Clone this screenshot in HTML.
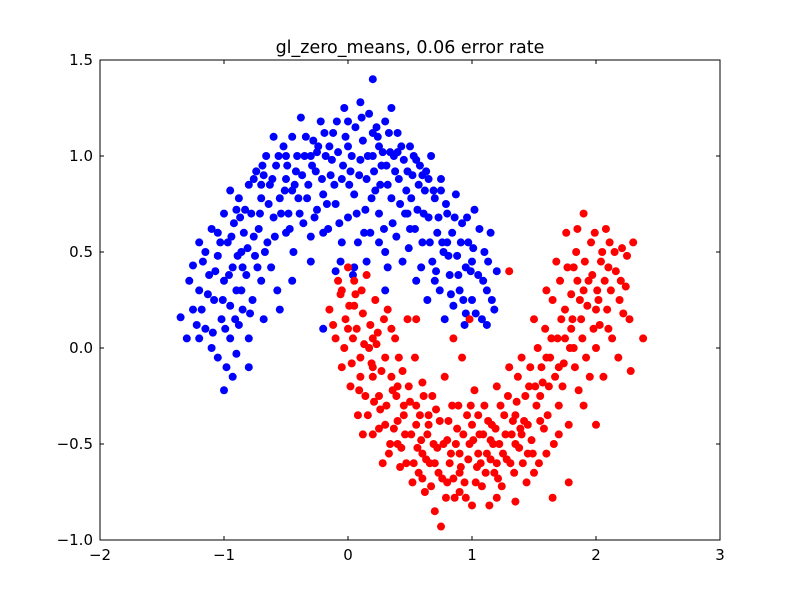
<!DOCTYPE html>
<html><head><meta charset="utf-8"><style>
body{margin:0;background:#fff;}
svg{display:block;font-family:"DejaVu Sans","Liberation Sans",sans-serif;}
</style></head><body>
<svg id="chart" width="800" height="600" viewBox="0 0 800 600">
<rect width="800" height="600" fill="#fff"/>
<text x="410" y="53" font-size="17.5" text-anchor="middle">gl_zero_means, 0.06 error rate</text>
<g id="points"></g>
<rect x="100" y="60" width="620" height="480" fill="none" stroke="#000" stroke-width="1"/>
<g id="axes"></g>
</svg>
<script>
const xTicks=[-2,-1,0,1,2,3];
const yTicks=[-1.0,-0.5,0.0,0.5,1.0,1.5];
const xTickLabels=["\u22122","\u22121","0","1","2","3"];
const yTickLabels=["\u22121.0","\u22120.5","0.0","0.5","1.0","1.5"];
const bluePoints=[-1.35,0.16,-1.3,0.05,-1.25,0.43,-1.2,0.3,-1.2,0.55,-1.18,0.2,-1.15,0.1,-1.12,0.38,-1.1,0.62,-1.1,0.0,-1.08,0.25,-1.05,0.48,-1.05,-0.05,-1.02,0.15,-1.0,0.7,-1.0,0.35,-0.98,-0.1,-0.97,0.55,-0.95,0.05,-0.95,0.22,-0.93,0.42,-0.92,0.65,-0.9,-0.03,-0.9,0.3,-0.88,0.78,-0.88,0.12,-0.86,0.5,-0.85,0.2,-0.84,0.6,-0.82,0.38,-0.8,0.85,-0.8,0.05,-0.78,0.7,-0.77,0.25,-0.75,0.48,-0.74,0.92,-0.72,0.62,-0.7,0.35,-0.7,0.78,-0.68,0.15,-0.66,1.0,-0.65,0.55,-0.63,0.85,-0.62,0.42,-0.6,0.68,-0.58,0.95,-0.57,0.3,-0.55,0.78,-0.52,1.05,-0.5,0.6,-0.5,0.88,-0.48,0.7,-0.45,1.1,-0.44,0.5,-0.42,0.92,-0.4,0.78,-0.38,1.2,-0.36,0.65,-0.35,1.0,-0.32,0.85,-0.3,0.58,-0.28,1.08,-0.26,0.92,-0.25,0.72,-0.22,1.18,-0.2,0.8,-0.18,1.0,-0.16,0.62,-0.14,0.9,-0.12,1.12,-0.1,0.75,-0.08,1.02,-0.06,0.45,-0.05,0.88,-0.03,1.25,0.0,0.68,0.0,1.05,0.02,0.92,0.04,0.38,0.05,0.8,0.06,1.15,0.08,0.55,0.1,0.98,0.12,1.08,0.14,0.72,0.15,0.88,0.17,1.22,0.18,0.6,0.2,1.0,0.22,0.82,0.24,1.1,0.25,0.7,0.27,0.95,0.3,1.18,0.3,0.5,0.32,0.85,0.34,1.02,0.36,0.65,0.38,0.92,0.4,1.12,0.42,0.75,0.44,0.45,0.45,0.98,0.47,0.82,0.5,0.62,0.5,1.05,0.52,0.9,0.55,0.35,0.56,0.72,0.58,0.95,0.6,0.55,0.62,0.82,0.64,0.25,0.65,0.68,0.67,1.0,0.68,0.45,0.7,0.78,0.72,0.6,0.74,0.3,0.75,0.88,0.77,0.5,0.78,0.15,0.8,0.7,0.82,0.38,0.84,0.6,0.85,0.22,0.87,0.8,0.88,0.48,0.9,0.3,0.92,0.65,0.94,0.12,0.95,0.42,0.97,0.55,1.0,0.25,1.02,0.72,1.05,0.38,1.08,0.15,1.1,0.5,1.12,0.3,1.15,0.6,1.18,0.2,1.2,0.4,0.2,1.4,-0.2,0.1,-0.55,0.2,-1.0,-0.22,-0.93,-0.15,-0.1,0.4,0.3,0.3,-0.8,-0.1,-0.95,0.82,-1.15,0.5,-0.6,1.1,-0.3,1.0,0.1,1.28,0.35,1.25,0.6,0.9,0.8,0.55,1.0,0.45,-1.05,0.6,-0.85,0.42,-0.68,0.9,-0.45,0.82,-0.15,1.05,0.25,1.05,0.48,0.7,0.7,0.35,0.95,0.18,1.12,0.12,
-1.28,0.35,-1.22,0.12,-1.17,0.45,-1.13,0.28,-1.09,0.08,-1.07,0.4,-1.03,0.55,-1.01,0.25,-0.99,0.1,-0.96,0.38,-0.94,0.58,-0.91,0.15,-0.89,0.48,-0.87,0.68,-0.86,0.3,-0.83,0.72,-0.81,0.52,-0.79,0.18,-0.76,0.88,-0.76,0.58,-0.73,0.42,-0.71,0.7,-0.69,0.95,-0.67,0.5,-0.64,0.75,-0.61,0.88,-0.59,0.58,-0.56,1.0,-0.54,0.7,-0.51,0.82,-0.49,0.95,-0.47,0.62,-0.43,0.85,-0.41,1.0,-0.39,0.7,-0.37,0.9,-0.34,1.1,-0.33,0.78,-0.29,0.95,-0.27,0.68,-0.24,1.05,-0.21,0.88,-0.19,1.12,-0.17,0.75,-0.13,0.98,-0.11,0.85,-0.09,1.18,-0.07,0.65,-0.04,0.95,-0.02,1.1,0.01,0.85,0.03,1.0,0.07,0.7,0.09,0.9,0.11,1.2,0.13,0.6,0.16,1.0,0.19,0.78,0.21,0.92,0.23,1.15,0.26,0.85,0.28,1.02,0.29,0.62,0.31,0.95,0.33,1.12,0.35,0.78,0.37,1.0,0.39,0.58,0.41,0.88,0.43,1.05,0.46,0.7,0.48,0.92,0.49,0.52,0.51,0.78,0.53,1.0,0.54,0.62,0.57,0.85,0.59,0.42,0.61,0.7,0.63,0.92,0.66,0.55,0.69,0.82,0.71,0.4,0.73,0.68,0.76,0.55,0.79,0.75,0.81,0.48,0.83,0.28,0.86,0.68,0.89,0.38,0.91,0.55,0.93,0.25,0.96,0.68,0.99,0.4,1.01,0.52,1.03,0.18,1.06,0.62,1.09,0.35,1.13,0.45,1.16,0.25,-0.3,0.45,-0.45,0.35,-0.2,0.6,-0.05,0.55,0.05,0.42,0.15,0.45,0.25,0.55,0.32,0.42,-1.25,0.2,-1.2,0.05,-0.9,0.72,-0.7,0.85,-0.5,1.0,-0.25,1.02,0.0,1.18,0.2,1.12,0.4,1.02,0.55,0.98,0.65,0.88,0.75,0.82];
const redPoints=[-0.15,0.2,-0.1,0.05,-0.08,0.35,-0.05,-0.1,-0.02,0.15,0.0,0.42,0.02,-0.2,0.04,0.05,0.06,0.28,0.08,-0.35,0.1,-0.05,0.12,0.18,0.14,-0.25,0.15,0.38,0.17,0.0,0.2,-0.45,0.2,-0.15,0.22,0.25,0.24,0.08,0.26,-0.32,0.28,-0.6,0.3,-0.05,0.32,0.2,0.34,-0.5,0.36,-0.22,0.38,0.05,0.4,-0.38,0.42,-0.62,0.44,-0.12,0.46,-0.45,0.48,0.15,0.5,-0.28,0.52,-0.7,0.54,-0.05,0.56,-0.52,0.58,-0.35,0.6,-0.18,0.62,-0.75,0.64,-0.45,0.66,-0.6,0.68,-0.25,0.7,-0.85,0.72,-0.52,0.74,-0.38,0.75,-0.93,0.76,-0.68,0.78,-0.15,0.8,-0.48,0.82,-0.6,0.84,-0.3,0.86,-0.78,0.88,-0.42,0.9,-0.55,0.92,-0.05,0.94,-0.7,0.96,-0.35,0.98,-0.5,1.0,-0.82,1.02,-0.22,1.04,-0.62,1.06,-0.45,1.08,-0.72,1.1,-0.3,1.12,-0.55,1.14,-0.82,1.16,-0.4,1.18,-0.65,1.2,-0.2,1.22,-0.5,1.24,-0.72,1.26,-0.35,1.28,-0.58,1.3,-0.1,1.32,-0.45,1.34,-0.65,1.36,-0.28,1.38,-0.52,1.4,-0.05,1.42,-0.38,1.44,-0.7,1.46,-0.2,1.48,-0.48,1.5,0.15,1.52,-0.3,1.54,-0.6,1.56,-0.1,1.58,-0.42,1.6,0.3,1.62,-0.2,1.64,0.05,1.66,-0.5,1.68,0.45,1.7,-0.3,1.72,0.15,1.74,-0.08,1.76,0.6,1.78,-0.4,1.8,0.28,1.82,0.0,1.84,0.5,1.86,-0.22,1.88,0.15,1.9,0.7,1.92,-0.05,1.94,0.35,1.96,0.55,1.98,0.1,2.0,-0.4,2.02,0.25,2.04,0.45,2.06,-0.15,2.08,0.62,2.1,0.1,2.12,0.3,2.15,0.5,2.18,-0.05,2.2,0.35,2.22,0.18,2.25,0.48,2.3,0.55,2.38,0.05,2.28,-0.12,1.65,-0.78,1.78,-0.7,1.35,-0.8,0.12,-0.45,0.35,0.1,0.55,0.15,0.98,0.15,1.3,0.4,0.85,0.05,0.0,0.1,0.1,-0.15,0.25,-0.25,0.4,-0.5,0.55,-0.4,0.7,-0.6,0.9,-0.65,1.05,-0.55,1.2,-0.6,1.4,-0.45,1.55,-0.25,1.7,-0.1,1.8,0.1,1.9,0.3,2.0,0.2,1.85,0.35,1.6,-0.05,1.45,-0.55,1.0,-0.4,0.8,-0.7,0.6,-0.55,0.45,-0.3,0.2,-0.1,0.05,0.22,0.3,-0.4,0.65,-0.35,1.15,-0.48,1.35,-0.35,1.75,0.05,2.1,0.42,
-0.12,0.12,-0.06,0.28,-0.03,0.0,0.01,0.22,0.03,-0.08,0.05,0.35,0.07,0.1,0.09,-0.22,0.11,0.3,0.13,0.02,0.16,-0.35,0.18,0.12,0.19,-0.08,0.21,-0.28,0.23,0.02,0.25,-0.42,0.27,-0.12,0.29,0.15,0.31,-0.3,0.33,-0.55,0.35,-0.15,0.37,-0.42,0.39,-0.25,0.41,-0.05,0.43,-0.52,0.45,-0.35,0.47,-0.6,0.49,-0.2,0.51,-0.45,0.53,-0.6,0.55,-0.3,0.57,-0.65,0.59,-0.48,0.61,-0.25,0.63,-0.58,0.65,-0.4,0.67,-0.72,0.69,-0.5,0.71,-0.32,0.73,-0.65,0.77,-0.5,0.79,-0.78,0.81,-0.38,0.83,-0.55,0.85,-0.68,0.87,-0.5,0.89,-0.3,0.91,-0.62,0.93,-0.45,0.95,-0.78,0.97,-0.58,0.99,-0.3,1.01,-0.48,1.03,-0.7,1.05,-0.35,1.07,-0.6,1.09,-0.45,1.11,-0.65,1.13,-0.38,1.15,-0.58,1.17,-0.5,1.19,-0.42,1.21,-0.68,1.23,-0.3,1.25,-0.55,1.27,-0.45,1.29,-0.25,1.31,-0.6,1.33,-0.38,1.35,-0.5,1.37,-0.15,1.39,-0.42,1.41,-0.6,1.43,-0.25,1.45,-0.4,1.47,-0.1,1.49,-0.55,1.51,-0.2,1.53,0.0,1.55,-0.38,1.57,-0.18,1.59,0.1,1.61,-0.35,1.63,-0.05,1.65,0.25,1.67,-0.15,1.69,0.05,1.71,0.35,1.73,-0.2,1.75,0.2,1.77,0.42,1.79,0.0,1.81,0.15,1.83,-0.1,1.85,0.62,1.87,0.25,1.89,0.05,1.91,0.45,1.93,0.22,1.95,-0.15,1.97,0.38,1.99,0.6,2.01,0.3,2.03,0.12,2.05,0.5,2.07,0.35,2.09,0.2,2.11,0.55,2.13,0.05,2.16,0.4,2.19,0.25,2.21,0.52,2.24,0.32,2.27,0.15,1.6,-0.55,1.7,-0.45,1.5,-0.65,1.2,-0.78,0.9,-0.75,0.6,-0.68,0.4,-0.2,0.2,0.05,-0.05,0.3,1.82,0.42,1.9,-0.3,2.0,0.0];
const xScale=v=>100+(v-(-2))*124;
const yScale=v=>540-(v-(-1))*192;
const NS="http://www.w3.org/2000/svg";
const gp=document.getElementById('points');
function drawSeries(arr,color,name){
  for(let i=0;i<arr.length;i+=2){
    const c=document.createElementNS(NS,'circle');
    c.setAttribute('cx',xScale(arr[i]));
    c.setAttribute('cy',yScale(arr[i+1]));
    c.setAttribute('r',4);
    c.setAttribute('fill',color);
    
    
    gp.appendChild(c);
  }
}
drawSeries(bluePoints,'#0000ff','blue-point');
drawSeries(redPoints,'#ff0000','red-point');
const ga=document.getElementById('axes');
xTicks.forEach((t,i)=>{
  const x=xScale(t);
  [[540,536],[60,64]].forEach(([a,b])=>{
    const l=document.createElementNS(NS,'line');
    l.setAttribute('x1',x);l.setAttribute('x2',x);l.setAttribute('y1',a);l.setAttribute('y2',b);
    l.setAttribute('stroke','#000');
    
    
    ga.appendChild(l);
  });
  const tx=document.createElementNS(NS,'text');
  tx.setAttribute('x',x);tx.setAttribute('y',560);tx.setAttribute('font-size','15');tx.setAttribute('text-anchor','middle');
  tx.textContent=xTickLabels[i];
  
  
  ga.appendChild(tx);
});
yTicks.forEach((t,i)=>{
  const y=yScale(t);
  [[100,104],[720,716]].forEach(([a,b])=>{
    const l=document.createElementNS(NS,'line');
    l.setAttribute('x1',a);l.setAttribute('x2',b);l.setAttribute('y1',y);l.setAttribute('y2',y);
    l.setAttribute('stroke','#000');
    
    
    ga.appendChild(l);
  });
  const tx=document.createElementNS(NS,'text');
  tx.setAttribute('x',93);tx.setAttribute('y',y+5);tx.setAttribute('font-size','15');tx.setAttribute('text-anchor','end');
  tx.textContent=yTickLabels[i];
  
  
  ga.appendChild(tx);
});
</script>
</body></html>
